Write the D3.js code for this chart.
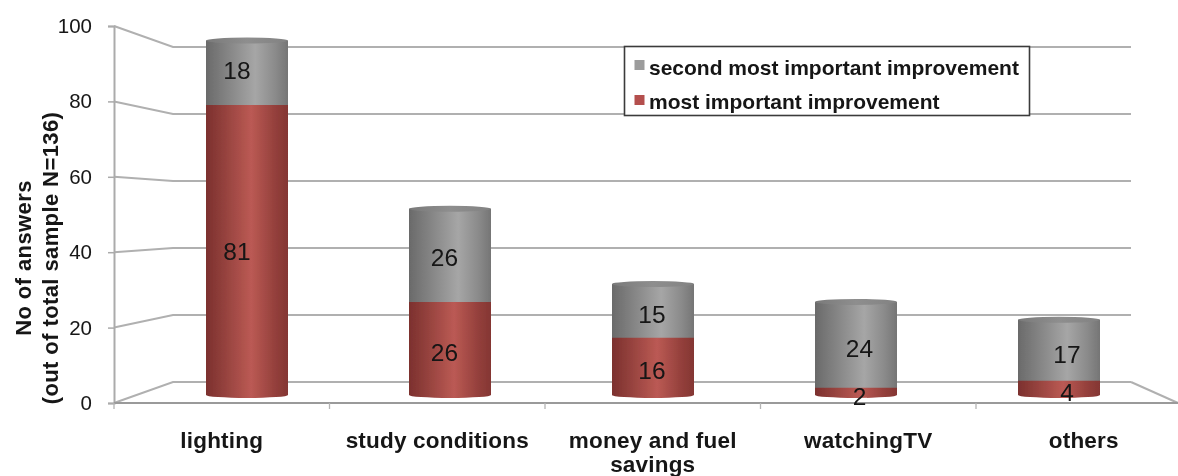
<!DOCTYPE html>
<html><head><meta charset="utf-8">
<style>html,body{margin:0;padding:0;background:#fff}svg{display:block}text{font-family:"Liberation Sans",Arial,sans-serif;fill:#141414}</style>
<script src="https://cdn.jsdelivr.net/npm/d3@7"></script></head><body>
<script>
const categories = ["lighting","study conditions","money and fuel savings","watchingTV","others"];
const mostImportant = [81,26,16,2,4];
const secondImportant = [18,26,15,24,17];
const yTicks = [0,20,40,60,80,100];
const seriesNames = ["second most important improvement","most important improvement"];
const yTitle = ["No of answers","(out of total sample N=136)"];

const W=1178,H=476;
const svg=d3.select("body").append("svg").attr("width",W).attr("height",H);
const defs=svg.append("defs");
defs.append("filter").attr("id","soft").attr("x","-5%").attr("y","-5%").attr("width","110%").attr("height","110%")
  .append("feGaussianBlur").attr("stdDeviation",0.5);
function grad(id,stops){const g=defs.append("linearGradient").attr("id",id);
  stops.forEach(s=>g.append("stop").attr("offset",s[0]).attr("stop-color",s[1]));}
grad("red",[[0,"#7c302e"],[.18,"#8f3e3a"],[.55,"#bb5a54"],[.85,"#933f3b"],[1,"#843633"]]);
grad("gray",[[0,"#6a6a6a"],[.2,"#7e7e7e"],[.6,"#a6a6a6"],[.85,"#8a8a8a"],[1,"#757575"]]);
grad("cap",[[0,"#7a7a7a"],[.5,"#8e8e8e"],[1,"#828282"]]);

const root=svg.append("g").attr("filter","url(#soft)");
const front=d3.scaleLinear().domain([0,100]).range([403,26]);
const back=d3.scaleLinear().domain([0,100]).range([382,47]);
const barY=d3.scaleLinear().domain([0,100]).range([395,37]);
const labelY=d3.scaleLinear().domain([0,100]).range([400,33]);
const catX=d3.scaleBand().domain(categories).range([114,1191.5]);
const barX=d3.scaleBand().domain(categories).range([145.5,1160.5]);
const valX=d3.scalePoint().domain(categories).range([237,1067]);
const gridC="#b0b0b0";
const backL=173,backR=1131,frontL=114;

// walls and gridlines
root.append("g").selectAll("path").data(yTicks).join("path")
  .attr("d",d=>d3.line()([[frontL,front(d)],[backL,back(d)],[backR,back(d)]]))
  .attr("fill","none").attr("stroke",gridC).attr("stroke-width",2);
root.append("path").attr("d",d3.line()([[backR,back(0)],[W,front(0)]])).attr("fill","none").attr("stroke",gridC).attr("stroke-width",2);

// y axis
const ya=root.append("g").attr("transform",`translate(${frontL},0)`)
  .call(d3.axisLeft(front).tickValues(yTicks).tickSize(6).tickPadding(16));
ya.select(".domain").attr("stroke","#ababab").attr("stroke-width",2);
ya.selectAll("line").attr("stroke","#ababab").attr("stroke-width",1.5);
ya.selectAll("text").attr("font-size",20.5).attr("fill","#222");
ya.attr("font-family",null);

// x axis
root.append("line").attr("x1",frontL).attr("x2",W).attr("y1",front(0)).attr("y2",front(0)).attr("stroke","#9a9a9a").attr("stroke-width",2);
root.append("g").selectAll("line").data(categories).join("line")
  .attr("x1",d=>catX(d)).attr("x2",d=>catX(d)).attr("y1",front(0)).attr("y2",front(0)+6)
  .attr("stroke","#b4b4b4").attr("stroke-width",1.3);
const splits={"money and fuel savings":["money and fuel","savings"]};
const cl=root.append("g").selectAll("text").data(categories).join("text")
  .attr("text-anchor","middle").attr("font-weight","bold").attr("font-size",22.5).attr("letter-spacing",0.2)
  .attr("x",d=>catX(d)+catX.bandwidth()/2).attr("y",448);
cl.selectAll("tspan").data(d=>(splits[d]||[d]).map(t=>({t,x:catX(d)+catX.bandwidth()/2}))).join("tspan")
  .attr("x",d=>d.x).attr("dy",(d,i)=>i?24:0).text(d=>d.t);

// cylinders
const bw=82,ry=3;
function seg(x,y0,y1,bulge){return `M${x},${y1}L${x},${y0}A${bw/2},${bulge} 0 0 0 ${x+bw},${y0}L${x+bw},${y1}Z`;}
const bars=root.append("g").selectAll("g").data(categories).join("g")
  .attr("transform",d=>`translate(${barX(d)+barX.bandwidth()/2-bw/2},0)`);
bars.append("path").attr("fill","url(#gray)")
  .attr("d",(d,i)=>seg(0,barY(mostImportant[i])+4,barY(mostImportant[i]+secondImportant[i]),0.01));
bars.append("path").attr("fill","url(#red)")
  .attr("d",(d,i)=>seg(0,barY(0),barY(mostImportant[i]),ry));
bars.append("ellipse").attr("cx",bw/2).attr("rx",bw/2).attr("ry",ry)
  .attr("cy",(d,i)=>barY(mostImportant[i]+secondImportant[i])).attr("fill","url(#cap)");

// value labels
const valG=root.append("g").attr("font-size",24.5).attr("text-anchor","middle");
categories.forEach((c,i)=>{
  const m=mostImportant[i],s=secondImportant[i];
  valG.append("text").attr("x",valX(c)).attr("y",labelY(m/2)).attr("dy","0.36em").text(m);
  valG.append("text").attr("x",valX(c)).attr("y",labelY(m+s/2)).attr("dy","0.36em").text(s);
});

// legend
const lg=root.append("g");
lg.append("rect").attr("x",624.5).attr("y",46.5).attr("width",405).attr("height",69).attr("fill","#fff").attr("stroke","#3a3a3a").attr("stroke-width",1.6);
const legendColors=["#9c9c9c","#b4504e"];
seriesNames.forEach((n,i)=>{
  lg.append("rect").attr("x",634.5).attr("y",60+i*35).attr("width",10).attr("height",10).attr("fill",legendColors[i]);
  lg.append("text").attr("x",649).attr("y",75+i*34).attr("font-size",21).attr("font-weight","bold").text(n);
});

// y title
yTitle.forEach((t,i)=>{
  root.append("text").attr("transform",`translate(${31+i*27},258) rotate(-90)`)
   .attr("font-weight","bold").attr("font-size",22).attr("letter-spacing",0.4).attr("text-anchor","middle").text(t);
});
</script></body></html>
